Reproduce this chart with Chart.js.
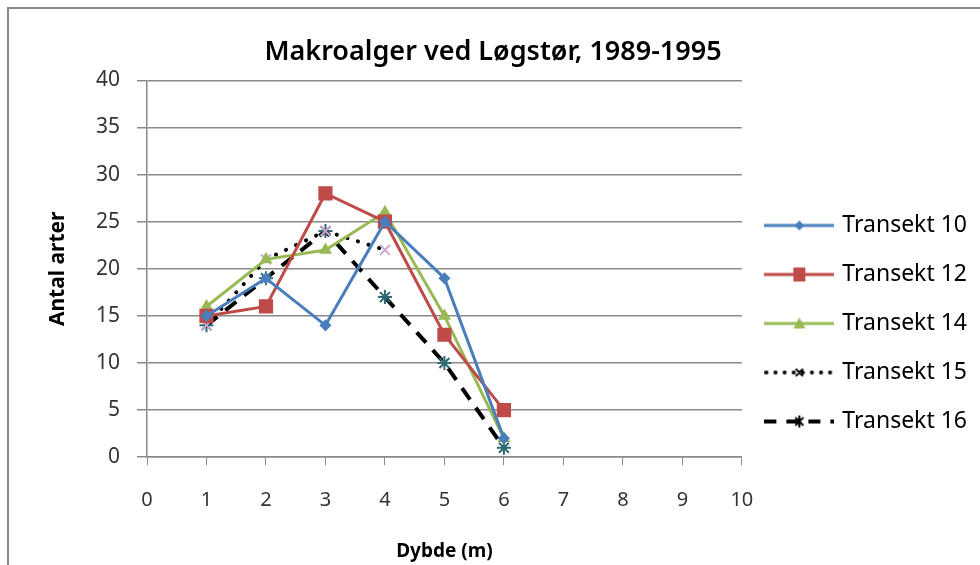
<!DOCTYPE html>
<html>
<head>
<meta charset="utf-8">
<script src="https://cdn.jsdelivr.net/npm/chart.js@4.4.1/dist/chart.umd.min.js"></script>
<style>
  html, body { margin: 0; padding: 0; background: #fff; overflow: hidden; }
  #frame {
    position: absolute; left: 7px; top: 7px;
    width: 973px; height: 558px;
    border-left: 2px solid #8a8a8a; border-top: 2px solid #8a8a8a;
  }
  #chart { display: block; }
</style>
</head>
<body>
<div id="frame"><canvas id="chart" width="971" height="556"></canvas></div>
<script>
const depths = [1, 2, 3, 4, 5, 6];
const transekt10 = [15, 19, 14, 25, 19, 2];
const transekt12 = [15, 16, 28, 25, 13, 5];
const transekt14 = [16, 21, 22, 26, 15, 2];
const transekt15 = [14, 21, 24, 22, null, null];
const transekt16 = [14, 19, 24, 17, 10, 1];
const seriesNames = ['Transekt 10', 'Transekt 12', 'Transekt 14', 'Transekt 15', 'Transekt 16'];
const xTicks = [0, 1, 2, 3, 4, 5, 6, 7, 8, 9, 10];
const yTicks = [0, 5, 10, 15, 20, 25, 30, 35, 40];

const FONT = "'Noto Sans', 'Open Sans', sans-serif";
const GRID = '#8a8a8a';

const points = vals => depths.map((d, i) => ({ x: d, y: vals[i] })).filter(p => p.y !== null);

// small legend icons: line sample + marker
function legendIcon(color, dash, width, marker, markerColor) {
    const c = document.createElement('canvas');
    c.width = 70; c.height = 20;
    const g = c.getContext('2d');
    const dotted = dash.length && dash[0] < 1;
    g.strokeStyle = color;
    g.lineWidth = width;
    g.lineCap = dotted ? 'round' : 'butt';
    g.setLineDash(dash);
    g.beginPath(); g.moveTo(dotted ? 2 : 0, 10); g.lineTo(70, 10); g.stroke();
    g.setLineDash([]);
    g.fillStyle = markerColor;
    g.strokeStyle = markerColor;
    g.lineWidth = 2;
    const cx = 35, cy = 10;
    if (marker === 'diamond') {
        g.beginPath(); g.moveTo(cx, cy - 5); g.lineTo(cx + 5, cy); g.lineTo(cx, cy + 5); g.lineTo(cx - 5, cy); g.closePath(); g.fill();
    } else if (marker === 'square') {
        g.fillRect(cx - 6, cy - 7, 12, 14);
    } else if (marker === 'triangle') {
        g.beginPath(); g.moveTo(cx, cy - 6); g.lineTo(cx + 6, cy + 5); g.lineTo(cx - 6, cy + 5); g.closePath(); g.fill();
    } else if (marker === 'cross') {
        g.beginPath(); g.moveTo(cx - 3, cy - 3); g.lineTo(cx + 3, cy + 3); g.moveTo(cx + 3, cy - 3); g.lineTo(cx - 3, cy + 3); g.stroke();
    } else if (marker === 'star') {
        g.beginPath();
        g.moveTo(cx - 4, cy - 4); g.lineTo(cx + 4, cy + 4); g.moveTo(cx + 4, cy - 4); g.lineTo(cx - 4, cy + 4);
        g.moveTo(cx, cy - 6); g.lineTo(cx, cy + 6);
        g.stroke();
    }
    return c;
}

const icons = [
    legendIcon('#4a7ebb', [], 3, 'diamond', '#4a7ebb'),
    legendIcon('#be4b48', [], 3, 'square', '#be4b48'),
    legendIcon('#98b954', [], 3, 'triangle', '#98b954'),
    legendIcon('#000', [0.1, 9], 4, 'cross', '#000'),
    legendIcon('#000', [12, 10], 4, 'star', '#000')
];

const baseSet = {
    showLine: true,
    fill: false,
    tension: 0,
    borderWidth: 3,
    pointBorderWidth: 1.5
};

new Chart(document.getElementById('chart'), {
    type: 'scatter',
    data: {
        datasets: [
            {
                ...baseSet,
                label: seriesNames[0],
                data: points(transekt10),
                borderColor: '#4a7ebb',
                backgroundColor: '#4a7ebb',
                pointStyle: 'rectRot',
                pointRadius: 5
            },
            {
                ...baseSet,
                label: seriesNames[1],
                data: points(transekt12),
                borderColor: '#be4b48',
                backgroundColor: '#be4b48',
                pointStyle: 'rect',
                pointRadius: 9
            },
            {
                ...baseSet,
                label: seriesNames[2],
                data: points(transekt14),
                borderColor: '#98b954',
                backgroundColor: '#98b954',
                pointStyle: 'triangle',
                pointRadius: 6
            },
            {
                ...baseSet,
                label: seriesNames[3],
                data: points(transekt15),
                borderColor: '#000',
                backgroundColor: '#000',
                borderWidth: 4,
                borderDash: [0.1, 11],
                borderCapStyle: 'round',
                pointStyle: 'crossRot',
                pointRadius: 7,
                pointBorderColor: '#c9a6cf',
                pointBorderWidth: 2
            },
            {
                ...baseSet,
                label: seriesNames[4],
                data: points(transekt16),
                borderColor: '#000',
                backgroundColor: '#000',
                borderWidth: 4,
                borderDash: [14, 10],
                pointStyle: 'star',
                pointRadius: 7,
                pointBorderColor: '#2f6a72',
                pointBorderWidth: 2
            }
        ]
    },
    options: {
        responsive: false,
        animation: false,
        layout: {
            padding: { left: 0, right: 3, top: 0, bottom: 0 }
        },
        plugins: {
            title: {
                display: true,
                text: 'Makroalger ved Løgstør, 1989-1995',
                color: '#000',
                font: { family: FONT, size: 27, weight: '600' },
                padding: { top: 27, bottom: 12 }
            },
            legend: {
                position: 'right',
                align: 'start',
                title: {
                    display: true,
                    text: ' ',
                    font: { family: FONT, size: 10 },
                    padding: { top: 0, bottom: 167 }
                },
                labels: {
                    usePointStyle: true,
                    pointStyleWidth: 63,
                    boxHeight: 22,
                    padding: 26,
                    color: '#000',
                    font: { family: FONT, size: 23 },
                    generateLabels: chart => chart.data.datasets.map((ds, i) => ({
                        text: ds.label,
                        pointStyle: icons[i],
                        fillStyle: 'transparent',
                        strokeStyle: 'transparent',
                        fontColor: '#000',
                        lineWidth: 0,
                        datasetIndex: i,
                        hidden: false
                    }))
                }
            },
            tooltip: { enabled: false }
        },
        scales: {
            x: {
                type: 'linear',
                min: 0,
                max: 10,
                afterBuildTicks: axis => { axis.ticks = xTicks.map(v => ({ value: v })); },
                ticks: {
                    color: '#333',
                    font: { family: FONT, size: 20 },
                    padding: 23
                },
                grid: {
                    drawOnChartArea: false,
                    drawTicks: true,
                    tickLength: 8,
                    color: GRID
                },
                border: { color: GRID, width: 1.5 },
                title: {
                    display: true,
                    text: 'Dybde (m)',
                    color: '#000',
                    font: { family: FONT, size: 19, weight: 'bold' },
                    padding: { top: 5, bottom: 2 }
                }
            },
            y: {
                min: 0,
                max: 40,
                afterBuildTicks: axis => { axis.ticks = yTicks.map(v => ({ value: v })); },
                afterFit: axis => { axis.width = 138; },
                ticks: {
                    color: '#333',
                    font: { family: FONT, size: 21 },
                    padding: 17
                },
                grid: {
                    color: GRID,
                    lineWidth: 1.5,
                    tickLength: 10
                },
                border: { color: GRID, width: 1.5 },
                title: {
                    display: true,
                    text: 'Antal arter',
                    color: '#000',
                    font: { family: FONT, size: 21, weight: 'bold' },
                    padding: { top: 36, bottom: 0 }
                }
            }
        }
    }
});
</script>
</body>
</html>
